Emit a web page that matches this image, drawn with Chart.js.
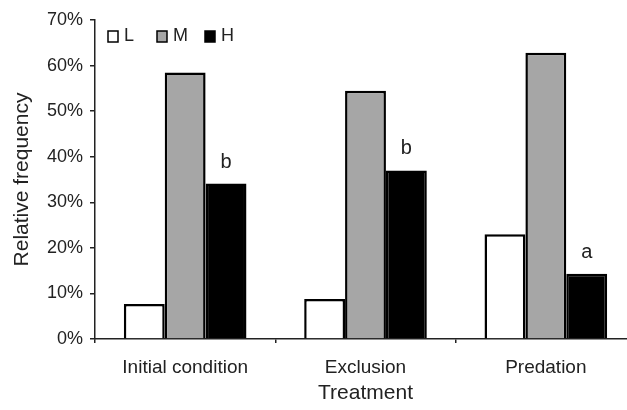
<!DOCTYPE html>
<html><head><meta charset="utf-8">
<script src="https://cdn.jsdelivr.net/npm/chart.js@4"></script>
<style>html,body{margin:0;padding:0;overflow:hidden;background:#fff;width:627px;height:410px}
#wrap{width:636px;height:410px}</style>
</head><body><div id="wrap"><canvas id="c" width="636" height="410"></canvas></div>
<script>
const categories = ["Initial condition", "Exclusion", "Predation"];
const seriesNames = ["L", "M", "H"];
const valuesL = [7.7, 8.8, 23.0];
const valuesM = [58.5, 54.5, 62.8];
const valuesH = [34.1, 37.0, 14.3];
const letters = ["b", "b", "a"];
const yTicks = [0, 10, 20, 30, 40, 50, 60, 70];
const fills = ["#ffffff", "#a6a6a6", "#000000"];

const FONT = "'Liberation Sans', Arial, sans-serif";
const INK = "#222";

const annot = {
  id: 'annot',
  afterDatasetsDraw(chart) {
    const ctx = chart.ctx;
    ctx.save();
    // significance letters above H bars
    const meta = chart.getDatasetMeta(2);
    ctx.fillStyle = INK;
    ctx.font = "20px " + FONT;
    ctx.textAlign = "center";
    ctx.textBaseline = "alphabetic";
    meta.data.forEach((bar, i) => {
      ctx.fillText(letters[i], bar.x, bar.y - 16);
    });
    // legend
    const xs = [108, 157, 205];
    ctx.font = "18px " + FONT;
    ctx.textAlign = "left";
    ctx.textBaseline = "middle";
    chart.data.datasets.forEach((ds, i) => {
      ctx.fillStyle = ds.backgroundColor;
      ctx.fillRect(xs[i], 31, 10, 11);
      ctx.strokeStyle = "#000";
      ctx.lineWidth = 1.5;
      ctx.strokeRect(xs[i], 31, 10, 11);
      ctx.fillStyle = INK;
      ctx.fillText(ds.label, xs[i] + 16, 36.5);
    });
    ctx.restore();
  }
};

new Chart(document.getElementById('c'), {
  type: 'bar',
  data: {
    labels: categories,
    datasets: [valuesL, valuesM, valuesH].map((v, i) => ({
      label: seriesNames[i],
      data: v,
      backgroundColor: fills[i],
      borderColor: "#000",
      borderWidth: 2.5,
      borderSkipped: 'bottom',
      categoryPercentage: 0.68,
      barPercentage: 1.0
    }))
  },
  options: {
    responsive: false,
    animation: false,
    devicePixelRatio: 1,
    layout: { padding: { top: 20, left: 0, right: 0, bottom: 0 } },
    plugins: { legend: { display: false }, tooltip: { enabled: false } },
    scales: {
      x: {
        grid: { offset: true, drawOnChartArea: false, drawTicks: true, tickLength: 4, color: INK, lineWidth: 1.5 },
        border: { color: INK, width: 1.5 },
        ticks: { color: INK, font: { family: FONT, size: 19 }, padding: 13 },
        title: { display: true, text: "Treatment", color: INK, font: { family: FONT, size: 21 }, padding: { top: 2, bottom: 4 } },
        afterFit(s) { s.height = 71; }
      },
      y: {
        min: 0, max: 70,
        afterBuildTicks(s) { s.ticks = yTicks.map(v => ({ value: v })); },
        grid: { drawOnChartArea: false, drawTicks: true, tickLength: 5, color: INK, lineWidth: 1.5 },
        border: { color: INK, width: 1.5 },
        ticks: { color: INK, font: { family: FONT, size: 18 }, padding: 7, callback: v => v + "%" },
        title: { display: true, text: "Relative frequency", color: INK, font: { family: FONT, size: 21 }, padding: { top: 10, bottom: 4 } },
        afterFit(s) { s.width = 95; }
      }
    }
  },
  plugins: [annot]
});
</script>
</body></html>
